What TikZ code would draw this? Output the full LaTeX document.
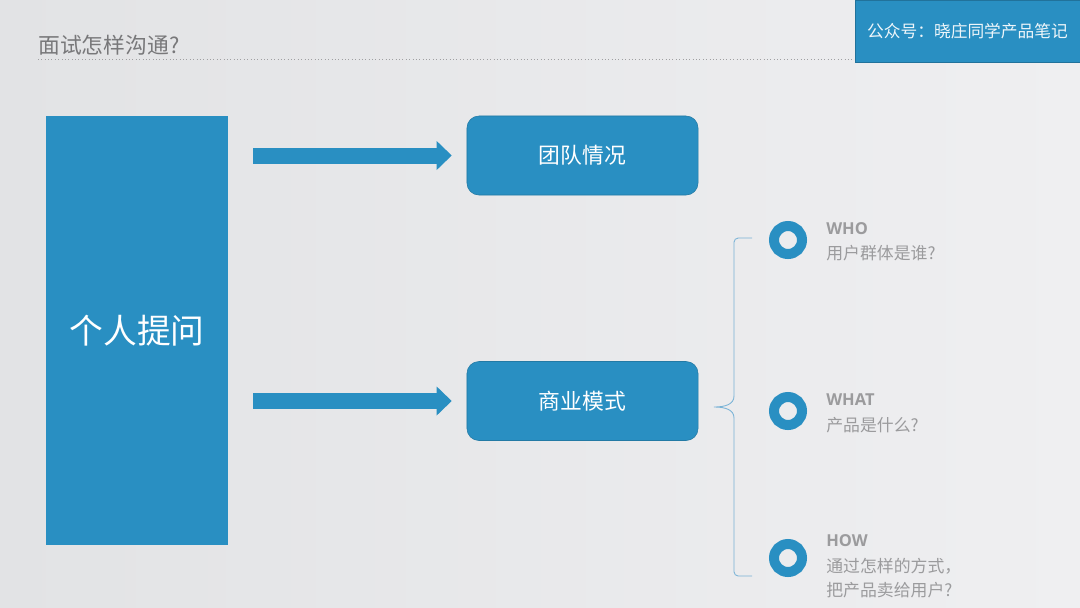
\documentclass[tikz,border=0pt]{standalone}
\usepackage{fontspec}
\setmainfont{Noto Sans CJK SC}
\newfontfamily\latinfont{Open Sans}
\usepackage{tikz}
\usetikzlibrary{positioning,calc,arrows.meta}
\usepackage{xcolor}
\definecolor{mainblue}{RGB}{41,143,194}
\definecolor{bracecol}{RGB}{120,178,214}
\definecolor{titlegray}{RGB}{120,120,122}
\definecolor{itemgray}{RGB}{155,155,157}

\begin{document}
\begin{tikzpicture}[
    x=0.025cm, y=-0.025cm,
    Bbox/.style={fill=mainblue, draw=none, inner sep=0pt},
    Rbox/.style={fill=mainblue, draw=mainblue!85!black, line width=0.4pt, rounded corners=0.3cm,
        minimum width=5.775cm, minimum height=1.975cm, text=white,
        font=\fontsize{15.5}{18}\selectfont},
    arw/.style={mainblue, line width=0.4cm,
        -{Triangle[width=0.725cm, length=0.375cm, line width=0pt]},
        shorten <=0.625cm, shorten >=0.375cm},
    ring/.style={circle, draw=mainblue, line width=0.25cm, minimum size=0.7cm, inner sep=0pt},
    hd/.style={anchor=west, inner sep=0pt, text=itemgray, font=\latinfont\bfseries\fontsize{11.7}{14}\selectfont},
    sub/.style={anchor=west, inner sep=0pt, text=itemgray, font=\fontsize{12}{14}\selectfont},
    brc/.style={draw=bracecol, line width=0.6pt},
]
% background and header
\useasboundingbox (0,0) rectangle (1080,607);
\shade[left color={rgb,255:red,226;green,227;blue,229}, right color={rgb,255:red,239;green,239;blue,241}]
    (0,0) rectangle (1080,607);
\node[anchor=west, inner sep=0pt, text=titlegray, font=\fontsize{15.5}{18}\selectfont] (title) at (38,45) {面试怎样沟通?};
\draw[titlegray!70, line width=0.4pt, dotted] (38,59) -- (855,59);
\node[Bbox, draw=mainblue!80!black, minimum width=5.625cm, minimum height=1.55cm, text=white!92!mainblue,
    font=\fontsize{11.9}{14}\selectfont] (acct) at (967.5,31) {公众号：晓庄同学产品笔记};

% left block and the two topics
\node[Bbox, minimum width=4.55cm, minimum height=10.725cm, text=white,
    font=\fontsize{24}{28}\selectfont] (ask) at (137,330.5) {个人提问};
\node[Rbox] (team) at (582.5,155.5) {团队情况};
\node[Rbox] (biz) at (582.5,401) {商业模式};
\draw[arw] (ask.east |- team.west) -- (team.west);
\draw[arw] (ask.east |- biz.west) -- (biz.west);

% brace
\coordinate (tip) at (714,407);
\coordinate (btop) at (752,238);
\coordinate (bbot) at (752,576);
\draw[brc, rounded corners=3pt] (btop) -- (734,238) -- (734,396);
\draw[brc] (734,396) .. controls (734,404) and (726,407) .. (tip)
    .. controls (726,407) and (734,410) .. (734,418);
\draw[brc, rounded corners=3pt] (734,418) -- (734,576) -- (bbot);

% who / what / how
\node[ring] (r1) at (788,240) {};
\node[ring] (r2) at (788,411) {};
\node[ring] (r3) at (788,558) {};
\node[hd] (who) at (826,229) {WHO};
\node[sub] (whoq) at (826,253) {用户群体是谁?};
\node[hd] (what) at (826,400) {WHAT};
\node[sub] (whatq) at (826,425) {产品是什么?};
\node[hd] (how) at (826,541) {HOW};
\node[sub] (howq1) at (826,566) {通过怎样的方式，};
\node[sub] (howq2) at (826,590) {把产品卖给用户?};
\end{tikzpicture}
\end{document}
